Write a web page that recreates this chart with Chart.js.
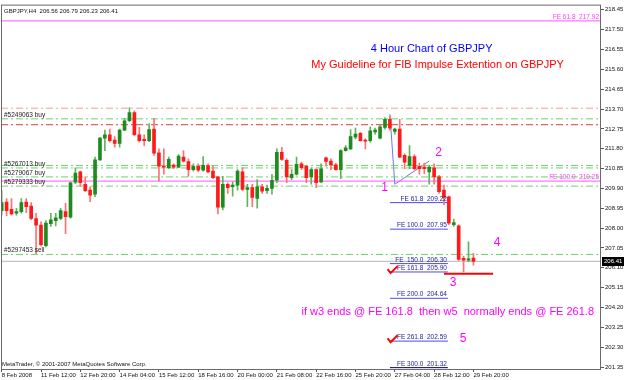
<!DOCTYPE html>
<html>
<head>
<meta charset="utf-8">
<script src="https://cdn.jsdelivr.net/npm/chart.js@4.4.1/dist/chart.umd.min.js"></script>
<style>
  html, body { margin: 0; padding: 0; background: #fff; }
  #wrap { width: 625px; height: 380px; }
</style>
</head>
<body>
<div id="wrap"><canvas id="chart" width="625" height="380"></canvas></div>
<script>
// GBPJPY H4 bars, 8 Feb 2008 -> 29 Feb 2008 20:00
const opens = [208.84,209.25,208.90,208.71,208.79,209.25,209.06,208.46,208.14,207.16,
  208.21,208.36,208.46,208.79,208.52,210.20,210.69,210.10,209.82,209.63,
  211.27,212.31,212.47,212.22,212.06,212.69,213.14,213.53,212.47,212.25,
  212.19,212.74,211.60,210.97,210.89,211.02,210.92,211.40,211.19,210.80,
  210.96,210.77,210.99,210.73,210.45,209.00,210.10,209.98,210.06,210.70,
  209.85,209.94,209.42,209.98,209.79,209.90,210.29,211.63,211.24,210.42,
  210.58,211.08,210.96,210.45,210.80,210.21,211.37,211.21,211.03,210.80,
  211.71,211.79,212.35,212.54,212.22,212.19,212.60,212.31,212.82,213.21,
  212.63,212.74,211.48,211.00,211.43,210.96,210.92,210.69,210.89,210.45,
  209.82,209.50,208.16,208.11,206.55,206.47,206.56];
const highs = [209.79,209.41,209.41,208.95,209.41,209.41,209.22,208.71,208.30,208.36,
  208.71,208.71,208.95,209.19,210.20,210.89,210.73,210.45,209.98,211.40,
  212.35,212.69,212.74,212.38,212.74,213.26,213.77,213.61,212.82,212.47,
  213.01,213.26,211.79,211.79,211.40,211.08,211.52,211.71,211.32,211.08,
  211.08,211.43,211.08,210.96,210.48,210.48,210.17,210.21,210.80,210.89,
  210.10,210.10,210.32,210.10,210.06,210.58,211.79,211.87,211.32,210.80,
  211.40,211.16,211.00,210.89,210.84,211.08,211.40,211.32,211.11,211.76,
  211.95,212.72,212.79,212.58,212.27,212.85,212.79,212.95,213.29,213.37,
  212.79,213.21,211.56,211.95,211.52,211.11,211.11,211.00,211.08,210.53,
  210.06,209.53,208.43,208.16,206.66,207.34,206.79];
const lows = [208.63,208.59,208.62,208.62,208.71,208.74,208.40,206.78,207.13,207.10,
  208.08,208.11,208.40,207.73,208.47,210.13,210.01,209.74,209.27,209.50,
  211.24,211.71,212.11,211.87,211.87,212.66,213.10,212.42,212.11,211.95,
  212.14,211.48,210.26,210.58,210.84,210.84,210.89,211.16,210.48,210.73,
  210.69,210.73,210.64,210.37,208.68,208.87,209.66,209.53,209.82,209.79,
  209.03,209.03,208.95,209.66,209.66,209.63,210.17,211.24,210.17,210.32,
  210.53,210.80,210.17,210.10,209.94,210.17,210.96,210.80,210.77,210.37,
  211.68,211.75,212.27,212.16,211.79,212.11,212.50,212.27,212.74,212.69,
  212.50,211.37,210.84,210.84,210.80,210.58,210.61,210.10,210.10,209.66,
  209.11,208.16,208.08,206.45,205.90,206.39,206.23];
const closes = [209.22,208.84,208.68,208.79,209.22,209.03,208.46,208.14,207.21,208.24,
  208.40,208.49,208.84,208.55,210.17,210.64,210.17,209.79,209.58,211.27,
  212.31,212.47,212.19,212.06,212.69,213.14,213.53,212.47,212.19,212.19,
  212.72,211.59,210.96,210.92,211.29,210.92,211.45,211.21,210.80,210.96,
  210.77,211.00,210.69,210.42,209.00,210.10,209.94,210.06,210.73,209.85,
  209.94,209.47,209.98,209.77,209.90,210.29,211.63,211.29,210.45,210.58,
  211.05,210.89,210.42,210.80,210.17,210.84,211.19,211.02,210.80,211.71,
  211.84,212.38,212.50,212.19,212.16,212.66,212.69,212.85,213.21,212.79,
  212.74,211.40,211.16,211.43,210.84,210.84,210.84,210.92,210.45,209.74,
  209.47,208.24,208.27,206.50,206.47,206.53,206.41];

// time axis labels every 8 bars
const timeTickBars = [0, 8, 16, 24, 32, 40, 48, 56, 64, 72, 80, 88, 96];
const timeLabels = ["8 Feb 2008", "11 Feb 12:00", "12 Feb 20:00", "14 Feb 04:00", "15 Feb 12:00",
  "18 Feb 16:00", "20 Feb 00:00", "21 Feb 08:00", "22 Feb 16:00", "25 Feb 20:00",
  "27 Feb 04:00", "28 Feb 12:00", "29 Feb 20:00"];
const priceTicks = [201.35, 202.30, 203.25, 204.20, 205.15, 206.10, 207.05, 208.00, 208.95,
  209.90, 210.85, 211.80, 212.75, 213.70, 214.65, 215.60, 216.55, 217.50, 218.45];

// order lines
const orderNames = ["#5249063 buy", "#5267013 buy", "#5279067 buy", "#5279333 buy", "#5297453 sell"];
const orderPrices = [213.23, 210.88, 210.45, 210.01, 206.74];
const otherGreenLevels = [211.00];
const stopLevels = [213.74, 212.95];

// fibo expansion
const feFullNames = ["FE 61.8", "FE 100.0"];
const feFullPrices = [217.92, 210.25];
const feNames = ["FE 61.8", "FE 100.0", "FE  150.0", "FE 161.8", "FE 200.0", "FE 261.8", "FE 300.0"];
const fePrices = [209.22, 207.95, 206.30, 205.90, 204.64, 202.59, 201.32];
const feFromBar = 79, feToBar = 90.8;
const waveBars = [79, 80, 87];
const wavePrices = [213.45, 210.10, 211.21];
const wave3MarkBars = [90, 100];
const wave3MarkPrice = 205.82;

// wave counts
const waveNames = ["1", "2", "3", "4", "5"];
const waveNameBars = [77.9, 88.9, 91.85, 100.8, 93.9];
const waveNamePrices = [209.94, 211.59, 205.39, 207.29, 202.71];
const checkBars = [79.55, 79.55];
const checkPrices = [205.99, 202.68];

const lastPrice = closes[closes.length - 1];
const xMin = -0.14, xMax = 121.96;
const yMin = 201.255, yMax = 218.70;

Chart.defaults.font.family = "'Liberation Sans', Arial, sans-serif";

const GREEN = "#1f8a1f", RED = "#ff1a1a";
const up = opens.map((o, i) => closes[i] >= o);

function hline(price, color, dash, width) {
  return {
    type: "line",
    data: [{ x: xMin, y: price }, { x: xMax, y: price }],
    borderColor: color,
    borderWidth: width || 1,
    borderDash: dash || [],
    pointRadius: 0,
    fill: false,
    order: 3,
  };
}
function seg(x0, x1, price, color, width) {
  return {
    type: "line",
    data: [{ x: x0, y: price }, { x: x1, y: price }],
    borderColor: color,
    borderWidth: width || 1,
    pointRadius: 0,
    fill: false,
    order: 3,
  };
}

const dashDot = [7, 3, 2, 3];
const lineSets = [];
stopLevels.forEach((p, i) => lineSets.push(hline(p, i === 0 ? "#ff9a9a" : "#e23a3a", dashDot)));
orderPrices.concat(otherGreenLevels).forEach((p) => lineSets.push(hline(p, "#6fd16f", dashDot)));
feFullPrices.forEach((p) => lineSets.push(hline(p, "#ff55ff", [], 1)));
lineSets.push(hline(lastPrice, "#b4b4bc", [], 1));
fePrices.forEach((p, i) =>
  lineSets.push(seg(feFromBar, feToBar, p, i === fePrices.length - 1 ? "#000088" : "#4a4ae8", 1)));
lineSets.push(seg(wave3MarkBars[0], wave3MarkBars[1], wave3MarkPrice, "#ff0000", 2));
lineSets.push({
  type: "line",
  data: waveBars.map((b, i) => ({ x: b, y: wavePrices[i] })),
  borderColor: "#7272f2",
  borderWidth: 1,
  pointRadius: 0,
  fill: false,
  order: 3,
});

const notes = {
  id: "notes",
  afterDatasetsDraw(chart) {
    const { ctx, chartArea: a, scales: { x, y } } = chart;
    ctx.save();
    ctx.textBaseline = "alphabetic";

    // order line labels
    ctx.font = "6.5px 'Liberation Sans', Arial";
    ctx.fillStyle = "#222";
    ctx.textAlign = "left";
    orderNames.forEach((n, i) => ctx.fillText(n, a.left + 3, y.getPixelForValue(orderPrices[i]) - 2));

    // FE labels
    ctx.textAlign = "right";
    ctx.fillStyle = "#ff40ff";
    feFullNames.forEach((n, i) =>
      ctx.fillText(n + "  " + feFullPrices[i].toFixed(2), a.right - 2, y.getPixelForValue(feFullPrices[i]) - 2));
    ctx.fillStyle = "#1c1ca8";
    feNames.forEach((n, i) =>
      ctx.fillText(n + "  " + fePrices[i].toFixed(2), x.getPixelForValue(feToBar) - 1, y.getPixelForValue(fePrices[i]) - 2));

    // header + copyright
    ctx.textAlign = "left";
    ctx.fillStyle = "#111";
    ctx.font = "6px 'Liberation Sans', Arial";
    ctx.fillText("GBPJPY,H4  206.56 206.79 206.23 206.41", a.left + 3, a.top + 8);
    ctx.fillText("MetaTrader, \u00a9 2001-2007 MetaQuotes Software Corp.", a.left + 1, a.bottom - 3);

    // titles
    ctx.textAlign = "center";
    ctx.textBaseline = "middle";
    ctx.font = "11px 'Liberation Sans', Arial";
    ctx.fillStyle = "#0000ff";
    ctx.fillText("4 Hour Chart of GBPJPY", x.getPixelForValue(87.5), y.getPixelForValue(216.56));
    ctx.fillStyle = "#ff0000";
    ctx.fillText("My Guideline for FIB Impulse Extention on GBPJPY", x.getPixelForValue(88.7), y.getPixelForValue(215.80));
    ctx.textAlign = "left";
    ctx.fillStyle = "#ff00ff";
    ctx.fillText("if w3 ends @ FE 161.8  then w5  normally ends @ FE 261.8", x.getPixelForValue(61.0), y.getPixelForValue(203.97));

    // wave numbers
    ctx.textAlign = "center";
    ctx.font = "12px 'Liberation Sans', Arial";
    waveNames.forEach((n, i) =>
      ctx.fillText(n, x.getPixelForValue(waveNameBars[i]), y.getPixelForValue(waveNamePrices[i])));

    // check marks
    ctx.strokeStyle = "#ff0000";
    ctx.lineWidth = 2;
    checkBars.forEach((b, i) => {
      const cx = x.getPixelForValue(b), cy = y.getPixelForValue(checkPrices[i]);
      ctx.beginPath();
      ctx.moveTo(cx - 5, cy - 1);
      ctx.lineTo(cx - 2, cy + 3);
      ctx.lineTo(cx + 5, cy - 4);
      ctx.stroke();
    });
    ctx.restore();
  },
  afterDraw(chart) {
    const { ctx, chartArea: a, scales: { y } } = chart;
    ctx.save();
    ctx.strokeStyle = "#6a6a6a";
    ctx.lineWidth = 1;
    ctx.strokeRect(a.left + 0.5, a.top + 0.5, a.right - a.left - 1, a.bottom - a.top);
    // current price box on the axis
    const py = Math.round(y.getPixelForValue(lastPrice));
    ctx.fillStyle = "#000";
    ctx.fillRect(a.right + 1, py - 4, 22, 9);
    ctx.fillStyle = "#fff";
    ctx.font = "6px 'Liberation Sans', Arial";
    ctx.textAlign = "left";
    ctx.textBaseline = "middle";
    ctx.fillText(lastPrice.toFixed(2), a.right + 3, py + 0.5);
    ctx.restore();
  },
};

new Chart(document.getElementById("chart"), {
  type: "bar",
  data: {
    datasets: [
      {
        label: "wicks",
        data: lows.map((l, i) => ({ x: i, y: [l, highs[i]] })),
        backgroundColor: up.map((u) => (u ? "#5db65d" : "#ff7070")),
        barThickness: 1,
        grouped: false,
        order: 1,
      },
      {
        label: "bodies",
        data: opens.map((o, i) => ({ x: i, y: [o, closes[i]] })),
        backgroundColor: up.map((u) => (u ? GREEN : RED)),
        barThickness: 3,
        minBarLength: 1,
        grouped: false,
        order: 0,
      },
      ...lineSets,
    ],
  },
  options: {
    responsive: false,
    animation: false,
    devicePixelRatio: 1,
    layout: { padding: { left: 1, top: 1, right: 0, bottom: 0 } },
    plugins: { legend: { display: false }, tooltip: { enabled: false } },
    scales: {
      x: {
        type: "linear",
        min: xMin,
        max: xMax,
        offset: false,
        grid: { offset: false, drawOnChartArea: false, tickLength: 3, color: "#555" },
        border: { display: false },
        afterBuildTicks: (s) => { s.ticks = timeTickBars.map((v) => ({ value: v })); },
        afterFit: (s) => { s.height = 11; },
        ticks: {
          autoSkip: false,
          maxRotation: 0,
          align: "start",
          padding: 0,
          color: "#111",
          font: { size: 6 },
          callback: (v) => timeLabels[timeTickBars.indexOf(v)] || "",
        },
      },
      y: {
        position: "right",
        min: yMin,
        max: yMax,
        grid: { drawOnChartArea: false, tickLength: 3, color: "#555" },
        border: { display: false },
        afterBuildTicks: (s) => { s.ticks = priceTicks.map((v) => ({ value: v })); },
        afterFit: (s) => { s.width = 24; },
        ticks: {
          padding: 1,
          color: "#111",
          font: { size: 6 },
          callback: (v) => Number(v).toFixed(2),
        },
      },
    },
  },
  plugins: [notes],
});
</script>
</body>
</html>
